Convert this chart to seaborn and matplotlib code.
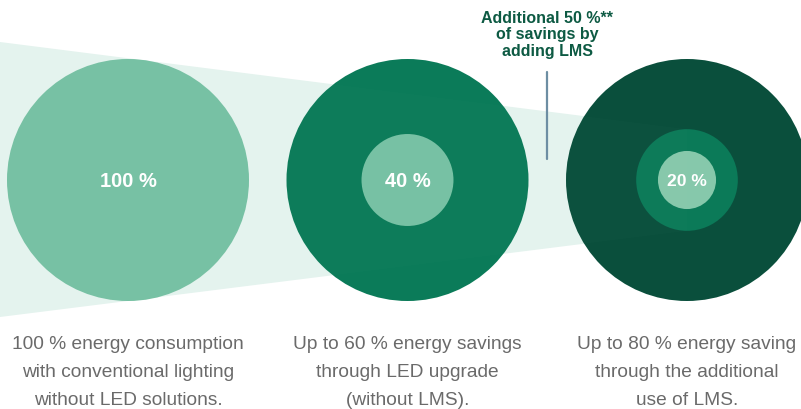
import numpy as np
import matplotlib
matplotlib.use("Agg")
import matplotlib.pyplot as plt
from matplotlib.patches import Circle, Polygon
import seaborn as sns

sns.set_theme(style="white")
plt.rcParams['font.family'] = ['Liberation Sans', 'DejaVu Sans']

# energy consumption per stage (centre labels)
consumption = [100, 40, 20]
# ring radii per stage as share of the outer circle
ring_shares = [[1.0], [1.0, 0.38], [1.0, 0.42, 0.24]]
ring_colors = [["#76c1a3"], ["#0b7b59", "#76c1a3"], ["#0a4f3c", "#0b7a58", "#86c8ab"]]
captions = [
    "100 % energy consumption\nwith conventional lighting\nwithout LED solutions.",
    "Up to 60 % energy savings\nthrough LED upgrade\n(without LMS).",
    "Up to 80 % energy saving\nthrough the additional\nuse of LMS.",
]
note = "Additional 50 %**\nof savings by\nadding LMS"

W, H = 801, 410
fig = plt.figure(figsize=(W / 100, H / 100), dpi=100)
ax = fig.add_axes([0, 0, 1, 1])
ax.set_xlim(0, W)
ax.set_ylim(H, 0)
ax.axis("off")

R = 121
cy = 181
cx = [128 + i * 279.5 for i in range(len(consumption))]

# light funnel band behind the circles
band = [(0, 43), (cx[2], cy - R * ring_shares[2][1]), (cx[2], cy + R * ring_shares[2][1]), (0, 318)]
ax.add_patch(Polygon(band, closed=True, facecolor="#e4f3ee", edgecolor="none", zorder=0))

for i, (shares, cols) in enumerate(zip(ring_shares, ring_colors)):
    for k, (s, c) in enumerate(zip(shares, cols)):
        ax.add_patch(Circle((cx[i], cy), R * s, facecolor=c, edgecolor="none", zorder=1 + k))
    fs = 14.5 if consumption[i] >= 40 else 12.6
    ax.text(cx[i], cy + 1, f"{consumption[i]} %", color="white", fontsize=fs,
            fontweight="bold", ha="center", va="center", zorder=10)
    ax.text(cx[i], 372.5, captions[i], color="#6a6a6a", fontsize=13.8, ha="center",
            va="center", linespacing=1.86, zorder=10)

# faint overlay of the band on top of the circles
ax.add_patch(Polygon(band, closed=True, facecolor="white", alpha=0.012, edgecolor="none", zorder=5))

# annotation for the LMS step
nx = 547
ax.text(nx, 35, note, color="#0d5a43", fontsize=11.5, fontweight="bold", ha="center",
        va="center", linespacing=1.09, zorder=10)
ax.plot([nx, nx], [73, 160], color="#6d8ea3", lw=1.6, zorder=10)

fig.savefig("out.png", dpi=100)
